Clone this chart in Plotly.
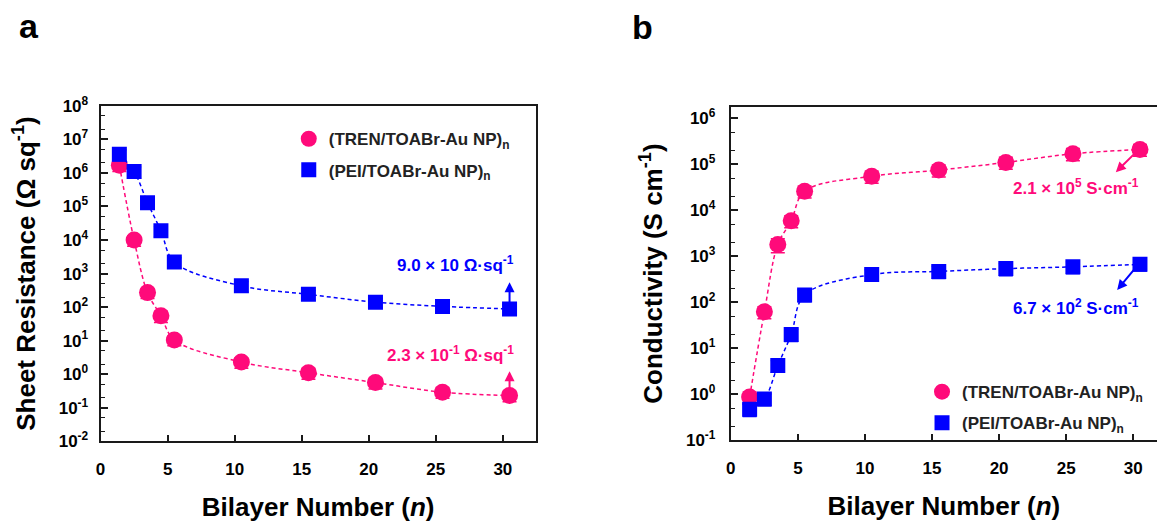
import plotly.graph_objects as go

# ---------------- data ----------------
bilayer_x = [1.4, 2.5, 3.5, 4.5, 5.5, 10.5, 15.5, 20.5, 25.5, 30.5]

# panel a: sheet resistance (ohm/sq)
tren_rs = [1.7e6, 1.0e4, 2.7e2, 5.5e1, 1.05e1, 2.3, 1.1, 0.56, 0.29, 0.23]
tren_rs_err = [6.0e5, 3.5e3, 9.0e1, 2.0e1, 3.5, 0.8, 0.4, 0.2, 0.1, 0.08]
pei_rs = [3.6e6, 1.1e6, 1.3e5, 1.9e4, 2.2e3, 4.3e2, 2.4e2, 1.4e2, 1.05e2, 8.8e1]
pei_rs_err = [1.3e6, 4.0e5, 4.5e4, 6.5e3, 7.5e2, 1.5e2, 8.0e1, 4.5e1, 3.5e1, 3.0e1]

# panel b: conductivity (S/cm)
tren_cond = [0.87, 62, 1.8e3, 5.9e3, 2.6e4, 5.5e4, 7.5e4, 1.1e5, 1.7e5, 2.1e5]
tren_cond_err = [0.25, 18, 6.0e2, 1.7e3, 7.5e3, 1.6e4, 2.2e4, 3.2e4, 5.0e4, 6.0e4]
pei_cond = [0.47, 0.79, 4.2, 20, 1.45e2, 4.0e2, 4.7e2, 5.4e2, 5.9e2, 6.7e2]
pei_cond_err = [0.14, 0.23, 1.2, 6, 4.2e1, 1.1e2, 1.4e2, 1.6e2, 1.7e2, 1.9e2]

x_ticks = [0, 5, 10, 15, 20, 25, 30]
rs_tickvals = [1e-2, 1e-1, 1e0, 1e1, 1e2, 1e3, 1e4, 1e5, 1e6, 1e7, 1e8]
rs_ticktext = ["10<sup>-2</sup>", "10<sup>-1</sup>", "10<sup>0</sup>", "10<sup>1</sup>",
               "10<sup>2</sup>", "10<sup>3</sup>", "10<sup>4</sup>", "10<sup>5</sup>",
               "10<sup>6</sup>", "10<sup>7</sup>", "10<sup>8</sup>"]
cond_tickvals = [1e-1, 1e0, 1e1, 1e2, 1e3, 1e4, 1e5, 1e6]
cond_ticktext = ["10<sup>-1</sup>", "10<sup>0</sup>", "10<sup>1</sup>", "10<sup>2</sup>",
                 "10<sup>3</sup>", "10<sup>4</sup>", "10<sup>5</sup>", "10<sup>6</sup>"]

tren_name = "(TREN/TOABr-Au NP)<sub>n</sub>"
pei_name = "(PEI/TOABr-Au NP)<sub>n</sub>"

PINK = "#FF0A7A"
BLUE = "#0000FF"
FONT = "Liberation Sans, Arial, sans-serif"
W, H = 1157, 525

fig = go.Figure()


def add_series(xa, ya, x, y, err, color, symbol, size, name, legend):
    fig.add_trace(go.Scatter(
        x=x, y=y, xaxis=xa, yaxis=ya, mode="lines", showlegend=False,
        line=dict(color=color, width=1.5, dash="4px,3px", shape="spline", smoothing=1.0),
        hoverinfo="skip"))
    fig.add_trace(go.Scatter(
        x=x, y=y, xaxis=xa, yaxis=ya, mode="markers", name=name, legend=legend,
        legendgroup=name + legend,
        marker=dict(color=color, symbol=symbol, size=size, line=dict(width=0)),
        error_y=dict(type="data", array=err, color=color, thickness=1.5, width=7)))


add_series("x", "y", bilayer_x, tren_rs, tren_rs_err, PINK, "circle", 17, tren_name, "legend")
add_series("x", "y", bilayer_x, pei_rs, pei_rs_err, BLUE, "square", 15, pei_name, "legend")
add_series("x2", "y2", bilayer_x, tren_cond, tren_cond_err, PINK, "circle", 17, tren_name, "legend2")
add_series("x2", "y2", bilayer_x, pei_cond, pei_cond_err, BLUE, "square", 15, pei_name, "legend2")

tickfont = dict(family=FONT, size=17, color="black", weight="bold")
titlefont = dict(family=FONT, size=26, color="black", weight="bold")
linecol = "#1a1a1a"

xcommon = dict(tickvals=x_ticks, ticks="inside", ticklen=6, tickwidth=1.5, tickcolor=linecol,
               showline=True, linecolor=linecol, linewidth=2, mirror=True,
               showgrid=False, zeroline=False, tickfont=tickfont, ticklabelstandoff=11,
               title=dict(text="Bilayer Number (<i>n</i>)", font=titlefont, standoff=20))

fig.update_layout(
    width=W, height=H, margin=dict(l=0, r=0, t=0, b=0),
    paper_bgcolor="white", plot_bgcolor="white",
    xaxis=dict(domain=[96 / W, 533 / W], range=[0, 32.45], anchor="y", **xcommon),
    yaxis=dict(domain=[1 - 448 / H, 1 - 98 / H], type="log", range=[-2, 8], anchor="x",
               tickvals=rs_tickvals, ticktext=rs_ticktext, ticks="inside", ticklen=7,
               tickwidth=1.5, tickcolor=linecol,
               minor=dict(ticks="inside", ticklen=4, tickwidth=1, tickcolor=linecol, showgrid=False),
               showline=True, linecolor=linecol, linewidth=2, mirror=True,
               showgrid=False, zeroline=False, tickfont=tickfont, ticklabelstandoff=7,
               title=dict(text="Sheet Resistance (\u03a9 sq<sup>-1</sup>)", font=titlefont, standoff=16)),
    xaxis2=dict(domain=[729 / W, 1.0], range=[0, 31.77], anchor="y2", **xcommon),
    yaxis2=dict(domain=[1 - 447 / H, 1 - 99 / H], type="log", range=[-1, 6.25], anchor="x2",
                tickvals=cond_tickvals, ticktext=cond_ticktext, ticks="inside", ticklen=7,
                tickwidth=1.5, tickcolor=linecol,
                minor=dict(ticks="inside", ticklen=4, tickwidth=1, tickcolor=linecol, showgrid=False),
                showline=True, linecolor=linecol, linewidth=2, mirror=False,
                showgrid=False, zeroline=False, tickfont=tickfont, ticklabelstandoff=10,
                title=dict(text="Conductivity (S cm<sup>-1</sup>)", font=titlefont, standoff=16)),
    legend=dict(x=285 / W, y=1 - 114 / H, xanchor="left", yanchor="top",
                font=dict(family=FONT, size=17, color="#222", weight="bold"),
                bgcolor="rgba(0,0,0,0)", traceorder="grouped", tracegroupgap=6,
                itemsizing="trace"),
    legend2=dict(x=921 / W, y=1 - 378 / H, xanchor="left", yanchor="top",
                 font=dict(family=FONT, size=17, color="#222", weight="bold"),
                 bgcolor="rgba(0,0,0,0)", traceorder="grouped", tracegroupgap=6,
                 itemsizing="trace"),
)

ann = []
# panel labels
ann.append(dict(text="<b>a</b>", x=24 / W, y=1 - 15 / H, xref="paper", yref="paper",
                xanchor="center", yanchor="middle",
                showarrow=False, font=dict(family=FONT, size=34, color="black")))
ann.append(dict(text="<b>b</b>", x=640 / W, y=1 - 16 / H, xref="paper", yref="paper",
                xanchor="center", yanchor="middle",
                showarrow=False, font=dict(family=FONT, size=34, color="black")))
# value labels
lab_font = lambda c: dict(family=FONT, size=17, color=c, weight="bold")
ann.append(dict(text="9.0 \u00d7 10 \u03a9\u00b7sq<sup>-1</sup>", x=26.5, y=3.29, xref="x", yref="y",
                xanchor="center", yanchor="middle", showarrow=False, font=lab_font(BLUE)))
ann.append(dict(text="2.3 \u00d7 10<sup>-1</sup> \u03a9\u00b7sq<sup>-1</sup>", x=26.1, y=0.6, xref="x", yref="y",
                xanchor="center", yanchor="middle", showarrow=False, font=lab_font(PINK)))
ann.append(dict(text="2.1 \u00d7 10<sup>5</sup> S\u00b7cm<sup>-1</sup>", x=25.7, y=4.5, xref="x2", yref="y2",
                xanchor="center", yanchor="middle", showarrow=False, font=lab_font(PINK)))
ann.append(dict(text="6.7 \u00d7 10<sup>2</sup> S\u00b7cm<sup>-1</sup>", x=25.7, y=1.9, xref="x2", yref="y2",
                xanchor="center", yanchor="middle", showarrow=False, font=lab_font(BLUE)))
# arrows
arrows = [
    ("x", "y", 30.5, 2.74, 30.5, 1.94, BLUE),
    ("x", "y", 30.5, 0.09, 30.5, -0.64, PINK),
    ("x2", "y2", 28.7, 4.83, 30.4, 5.32, PINK),
    ("x2", "y2", 28.8, 2.27, 30.4, 2.83, BLUE),
]
for xr, yr, hx, hy, tx, ty, c in arrows:
    ann.append(dict(text="", x=hx, y=hy, ax=tx, ay=ty, xref=xr, yref=yr, axref=xr, ayref=yr,
                    showarrow=True, arrowhead=2, arrowsize=1, arrowwidth=2, arrowcolor=c))
fig.update_layout(annotations=ann)

fig.write_html("out.html")
